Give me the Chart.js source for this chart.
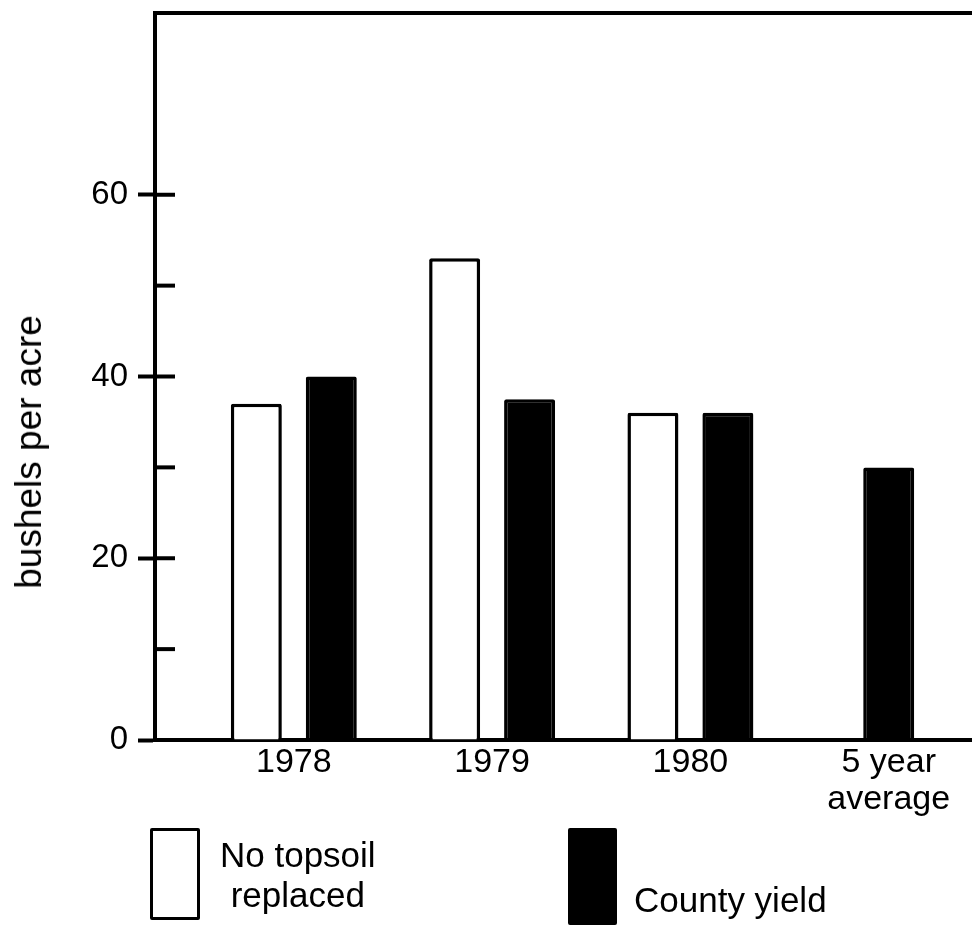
<!DOCTYPE html>
<html>
<head>
<meta charset="utf-8">
<script src="https://cdn.jsdelivr.net/npm/chart.js@4.4.0/dist/chart.umd.min.js"></script>
<style>
  body { margin: 0; background: #fff; font-family: "Liberation Sans", Arial, sans-serif; color: #000; }
  #wrap { position: relative; width: 972px; height: 925px; overflow: hidden; }
  #chart { position: absolute; left: 0; top: 0; }
  #y-title {
    position: absolute; left: 29px; top: 452px;
    transform: translate(-50%, -50%) rotate(-90deg);
    font-size: 37px; white-space: nowrap;
  }
  .swatch { position: absolute; box-sizing: border-box; border: 3.5px solid #000; border-radius: 2px; }
  .legend-text { position: absolute; font-size: 35px; line-height: 40px; text-align: center; white-space: nowrap; }
</style>
</head>
<body>
<div id="wrap">
  <canvas id="chart" width="972" height="925"></canvas>
  <div id="y-title">bushels per acre</div>
  <div id="legend"></div>
</div>
<script>
// values
const years = ["1978", "1979", "1980", ["5 year", "average"]];
const noTopsoil = [37, 53, 36, null];
const countyYield = [40, 37.5, 36, 30];
const seriesNames = ["No topsoil\nreplaced", "County yield"];
const yLabelMax = 60;

const fontFamily = "'Liberation Sans', Arial, sans-serif";

// little inward tick marks on the y axis
const innerTicks = {
  id: "innerTicks",
  afterDraw(chart) {
    const { ctx, chartArea, scales } = chart;
    const y = scales.y;
    ctx.save();
    ctx.strokeStyle = "#000";
    ctx.lineWidth = 4;
    y.ticks.forEach((t) => {
      if (t.value > 0 && t.value <= yLabelMax) {
        const py = y.getPixelForValue(t.value);
        ctx.beginPath();
        ctx.moveTo(chartArea.left, py);
        ctx.lineTo(chartArea.left + 20, py);
        ctx.stroke();
      }
    });
    ctx.restore();
  },
};

const ctx = document.getElementById("chart").getContext("2d");
new Chart(ctx, {
  type: "bar",
  data: {
    datasets: [
      {
        label: seriesNames[0],
        data: years.map((_, i) => ({ x: i + 1, y: noTopsoil[i] })),
        backgroundColor: "#fff",
        borderColor: "#000",
        borderWidth: 3.5,
        borderRadius: 2,
        borderSkipped: "start",
      },
      {
        label: seriesNames[1],
        data: years.map((_, i) => ({ x: i + 1, y: countyYield[i] })),
        backgroundColor: "#000",
        borderColor: "#000",
        borderWidth: 3.5,
        borderRadius: 2,
        borderSkipped: "start",
      },
    ],
  },
  options: {
    responsive: false,
    animation: false,
    skipNull: true,
    categoryPercentage: 0.756,
    barPercentage: 0.69,
    maxBarThickness: 51,
    layout: { padding: 0 },
    plugins: {
      legend: { display: false },
      tooltip: { enabled: false },
    },
    scales: {
      x: {
        type: "linear",
        position: "bottom",
        min: 0.3,
        max: 4.42,
        offset: false,
        grid: { display: false, drawTicks: false, offset: false },
        border: { display: true, color: "#000", width: 4 },
        afterBuildTicks: (scale) => {
          scale.ticks = years.map((_, i) => ({ value: i + 1 }));
        },
        afterFit: (scale) => {
          scale.height = 185;
        },
        ticks: {
          autoSkip: false,
          maxRotation: 0,
          padding: 4,
          color: "#000",
          font: { family: fontFamily, size: 34, lineHeight: 1.1 },
          callback: (v, i) => years[i],
        },
      },
      x2: {
        type: "linear",
        position: "top",
        min: 0,
        max: 1,
        grid: { display: false, drawTicks: false },
        border: { display: true, color: "#000", width: 4 },
        ticks: { display: false },
        afterFit: (scale) => {
          scale.height = 13;
        },
      },
      y: {
        min: 0,
        max: 80,
        grid: {
          display: true,
          drawOnChartArea: false,
          drawTicks: true,
          tickLength: 17,
          tickWidth: 4,
          tickColor: (c) =>
            c.tick && c.tick.value % 20 === 0 && c.tick.value <= yLabelMax ? "#000" : "rgba(0,0,0,0)",
        },
        border: { display: true, color: "#000", width: 4 },
        afterFit: (scale) => {
          scale.width = 155;
          scale.paddingTop = 0;
          scale.paddingBottom = 0;
        },
        ticks: {
          stepSize: 10,
          padding: 10,
          color: "#000",
          font: { family: fontFamily, size: 33 },
          callback: (v) => (v % 20 === 0 && v <= yLabelMax ? v : ""),
        },
      },
    },
  },
  plugins: [innerTicks],
});

// legend below the plot, built from the series names
const legendBoxes = [
  { box: { left: 150, top: 828, width: 50, height: 92 }, text: { left: 220, top: 835 } },
  { box: { left: 568, top: 828, width: 49, height: 97 }, text: { left: 634, top: 880 } },
];
const fills = ["#fff", "#000"];
const legend = document.getElementById("legend");
seriesNames.forEach((name, i) => {
  const b = legendBoxes[i];
  const sw = document.createElement("div");
  sw.className = "swatch";
  Object.assign(sw.style, {
    left: b.box.left + "px", top: b.box.top + "px",
    width: b.box.width + "px", height: b.box.height + "px",
    background: fills[i],
  });
  legend.appendChild(sw);
  const tx = document.createElement("div");
  tx.className = "legend-text";
  tx.style.left = b.text.left + "px";
  tx.style.top = b.text.top + "px";
  tx.innerHTML = name.split("\n").join("<br>");
  legend.appendChild(tx);
});
</script>
</body>
</html>
